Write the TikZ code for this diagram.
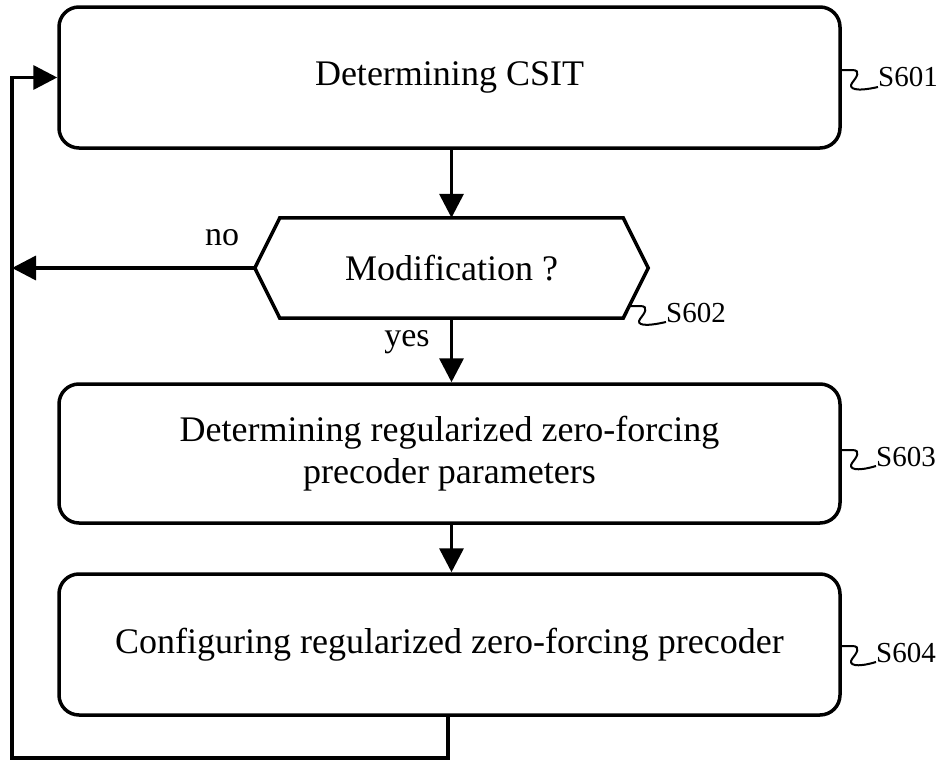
\documentclass[tikz,border=0pt]{standalone}
\usepackage{fontspec}
\setmainfont{Liberation Serif}
\usetikzlibrary{arrows.meta}
\begin{document}
\begin{tikzpicture}[x=1pt,y=-1pt,
  line/.style={line width=3.5pt},
  box/.style={draw, line width=3.5pt, rounded corners=20pt, minimum width=781pt,
    minimum height=141pt, align=center, inner sep=0pt,
    font=\fontsize{36}{42}\selectfont},
  arr/.style={line width=3.5pt, -{Triangle[length=24pt,width=24pt]}},
  lab/.style={inner sep=0pt, font=\fontsize{29}{34}\selectfont},
  yn/.style={inner sep=0pt, font=\fontsize{34}{40}\selectfont},
  sq/.style={line width=2pt}]
\useasboundingbox (0,0) rectangle (943,763);

\node[box] (b1) at (449.5,77.5) {Determining CSIT};
\node[inner sep=0pt, minimum width=393pt, minimum height=100pt,
  font=\fontsize{36}{42}\selectfont] (mod) at (451.5,268) {Modification ?};
\draw[line] (mod.west) -- ([xshift=25pt]mod.north west) -- ([xshift=-25pt]mod.north east)
  -- (mod.east) -- ([xshift=-25pt]mod.south east) -- ([xshift=25pt]mod.south west) -- cycle;
\node[box, minimum height=139pt] (b3) at (449.5,453.5) {Determining regularized zero-forcing\\precoder parameters};
\node[box] (b4) at (449.5,644.5) {Configuring regularized zero-forcing precoder};

% labels
\node[lab] (l1) at (908,77) {S601};
\node[lab] (l2) at (696,313) {S602};
\node[lab] (l3) at (906,457) {S603};
\node[lab] (l4) at (906,653) {S604};
\node[yn] (no) at (222,238) {no};
\node[yn] (yes) at (407,342) {yes};

% squiggles
\draw[sq] (840,70) -- (852,70) .. controls (862,70) and (856,78) .. (852,83)
  .. controls (848,89) and (856,92) .. (l1.west |- 0,87);
\draw[sq] (629,306) -- (640,306) .. controls (650,306) and (644,314) .. (640,319)
  .. controls (636,325) and (644,327) .. (l2.west |- 0,322);
\draw[sq] (840,450) -- (852,450) .. controls (862,450) and (856,458) .. (852,463)
  .. controls (848,469) and (856,472) .. (l3.west |- 0,466);
\draw[sq] (840,646) -- (852,646) .. controls (862,646) and (856,654) .. (852,659)
  .. controls (848,665) and (856,668) .. (l4.west |- 0,662);

% connectors
\coordinate (nol) at (12,268);
\coordinate (fbb) at (12,758);
\coordinate (fbt) at (12,77.5);
\draw[arr] (b1.south -| mod.north) -- (mod.north);
\draw[arr] (mod.west) -- (nol);
\draw[arr] (mod.south) -- (b3.north -| mod.south);
\draw[arr] (b3.south -| mod.south) -- (b4.north -| mod.south);
\draw[arr] ([xshift=-1.5pt]b4.south) |- (fbb) -- (fbt) -- (b1.west);
\end{tikzpicture}
\end{document}
